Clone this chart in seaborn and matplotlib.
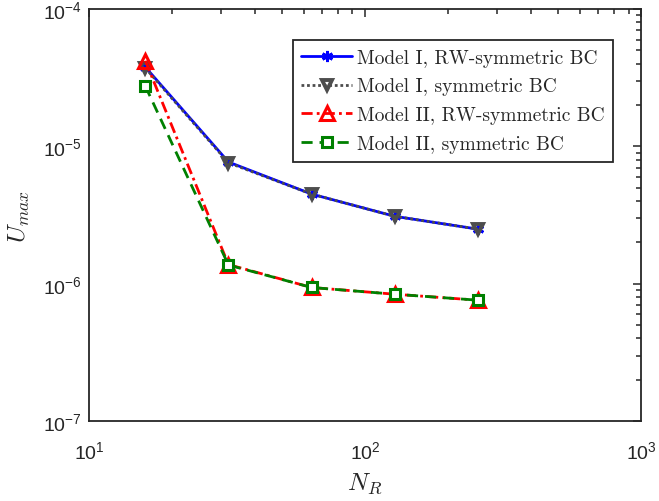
import matplotlib
matplotlib.use("Agg")
import matplotlib.pyplot as plt
import seaborn as sns
import pandas as pd
from matplotlib.ticker import LogLocator, LogFormatterSciNotation, NullFormatter

# Grid resolution N_R and the maximum displacement for each model / boundary condition
n_r = [16, 32, 64, 128, 256]
model1_rw = [3.78e-5, 7.7e-6, 4.5e-6, 3.1e-6, 2.5e-6]
model1_sym = [3.72e-5, 7.6e-6, 4.5e-6, 3.1e-6, 2.5e-6]
model2_rw = [4.2e-5, 1.38e-6, 9.4e-7, 8.4e-7, 7.6e-7]
model2_sym = [2.75e-5, 1.37e-6, 9.4e-7, 8.4e-7, 7.6e-7]

labels = [
    "Model I, RW-symmetric BC",
    "Model I, symmetric BC",
    "Model II, RW-symmetric BC",
    "Model II, symmetric BC",
]

sns.set_style("white")
plt.rcParams["font.family"] = ["Liberation Sans", "DejaVu Sans"]
plt.rcParams["mathtext.default"] = "regular"

frames = []
for lab, vals in zip(labels, [model1_rw, model1_sym, model2_rw, model2_sym]):
    frames.append(pd.DataFrame({"N_R": n_r, "U": vals, "case": lab}))
df = pd.concat(frames, ignore_index=True)

styles = {
    labels[0]: dict(color="#0000ff", linestyle="-", marker=(6, 2, 0), ms=8,
                    mfc="#0000ff", mec="#0000ff", mew=2.0),
    labels[1]: dict(color="#4d4d4d", linestyle=(0, (1, 1)), marker="v", ms=7,
                    mfc="none", mec="#4d4d4d", mew=2.8),
    labels[2]: dict(color="#ff0000", linestyle=(0, (4, 1.5, 1, 1.5)), marker="^", ms=10,
                    mfc="none", mec="#ff0000", mew=2.2),
    labels[3]: dict(color="#008000", linestyle=(0, (4, 2.5)), marker="s", ms=7.5,
                    mfc="white", mec="#008000", mew=2.2),
}

fig = plt.figure(figsize=(6.59, 5.02), dpi=100)
ax = fig.add_axes([0.135, 0.159, 0.838, 0.821])

for lab in labels:
    st = styles[lab]
    sns.lineplot(data=df[df["case"] == lab], x="N_R", y="U", ax=ax, label=lab,
                 color=st["color"], linestyle=st["linestyle"], linewidth=2.0,
                 marker=st["marker"], markersize=st["ms"],
                 markerfacecolor=st["mfc"], markeredgecolor=st["mec"],
                 markeredgewidth=st["mew"], legend=False)

ax.set_xscale("log")
ax.set_yscale("log")
ax.set_xlim(10, 1000)
ax.set_ylim(1e-7, 1e-4)

ax.xaxis.set_major_locator(LogLocator(base=10, numticks=10))
ax.yaxis.set_major_locator(LogLocator(base=10, numticks=10))
ax.xaxis.set_minor_locator(LogLocator(base=10, subs=range(2, 10), numticks=20))
ax.yaxis.set_minor_locator(LogLocator(base=10, subs=range(2, 10), numticks=20))
ax.xaxis.set_major_formatter(LogFormatterSciNotation())
ax.yaxis.set_major_formatter(LogFormatterSciNotation())
ax.xaxis.set_minor_formatter(NullFormatter())
ax.yaxis.set_minor_formatter(NullFormatter())

axis_col = "#262626"
for sp in ax.spines.values():
    sp.set_visible(True)
    sp.set_color(axis_col)
    sp.set_linewidth(1.3)
ax.tick_params(which="both", direction="in", top=True, right=True,
               color=axis_col, width=1.1)
ax.tick_params(which="major", length=6, labelsize=14, labelcolor=axis_col)
ax.tick_params(which="minor", length=3.5)
ax.tick_params(axis="x", which="major", pad=14)
ax.tick_params(axis="y", which="major", pad=5)

ax.set_xlabel(r"$\mathit{N}_{\mathit{R}}$", fontsize=18, math_fontfamily="cm", labelpad=6)
ax.set_ylabel(r"$\mathit{U}_{\mathit{max}}$", fontsize=18, math_fontfamily="cm", labelpad=8)

handles, hl = ax.get_legend_handles_labels()
leg = ax.legend(handles, hl, loc="upper right", bbox_to_anchor=(0.949, 0.925),
                prop={"family": "cmr10", "size": 14}, frameon=True, fancybox=False,
                framealpha=1, edgecolor="#262626", handlelength=2.6,
                handletextpad=0.25, borderpad=0.45, labelspacing=0.55,
                borderaxespad=0.0)
leg.get_frame().set_linewidth(1.3)

fig.savefig("out.png", dpi=100)
